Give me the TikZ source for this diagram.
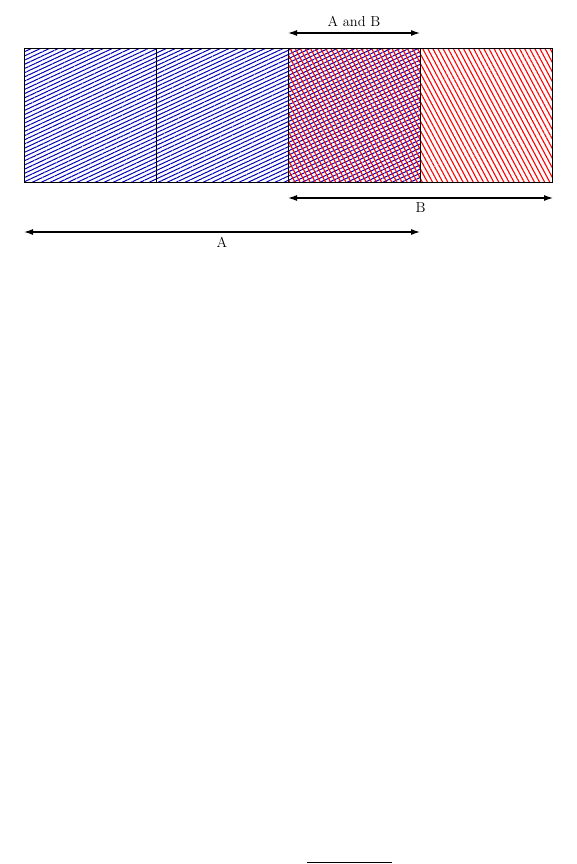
\documentclass[tikz,border=0pt]{standalone}
\usepackage{xcolor}
\usepackage{tikz}
\usetikzlibrary{arrows.meta,patterns.meta}

\begin{document}
\begin{tikzpicture}[
    x=1pt, y=-1pt,
    cell/.style={rectangle, draw=black, line width=1pt, minimum width=132pt,
                 minimum height=133pt, inner sep=0pt},
    hatchA/.style={pattern={Lines[angle=25,distance=3.8pt,line width=1pt]},
                   pattern color=blue!70!black},
    hatchB/.style={pattern={Lines[angle=-62,distance=4.5pt,line width=1.1pt]},
                   pattern color=red},
    arr/.style={{Latex[length=9pt,width=6pt]}-{Latex[length=9pt,width=6pt]}, line width=1.2pt},
    lbl/.style={font=\Large}
]
    \useasboundingbox (0,0) rectangle (577,864);

    \node[cell, hatchA] (a1) at (90,115.5)  {};
    \node[cell, hatchA] (a2) at (222,115.5) {};
    \node[cell, hatchB, preaction={hatchA}] (ab) at (354,115.5) {};
    \node[cell, hatchB] (b1) at (486,115.5) {};

    \coordinate (abL) at (288,33);
    \coordinate (abR) at (420,33);
    \coordinate (bL)  at (288,198);
    \coordinate (bR)  at (553,198);
    \coordinate (aL)  at (24,232);
    \coordinate (aR)  at (420,232);

    \draw[arr] (abL) -- node[lbl, above=2pt]{A and B} (abR);
    \draw[arr] (bL) -- node[lbl, below=1pt]{B} (bR);
    \draw[arr] (aL) -- node[lbl, below=1pt]{A} (aR);

    \draw[line width=1.5pt] (307,862.5) -- (392,862.5);
\end{tikzpicture}
\end{document}
